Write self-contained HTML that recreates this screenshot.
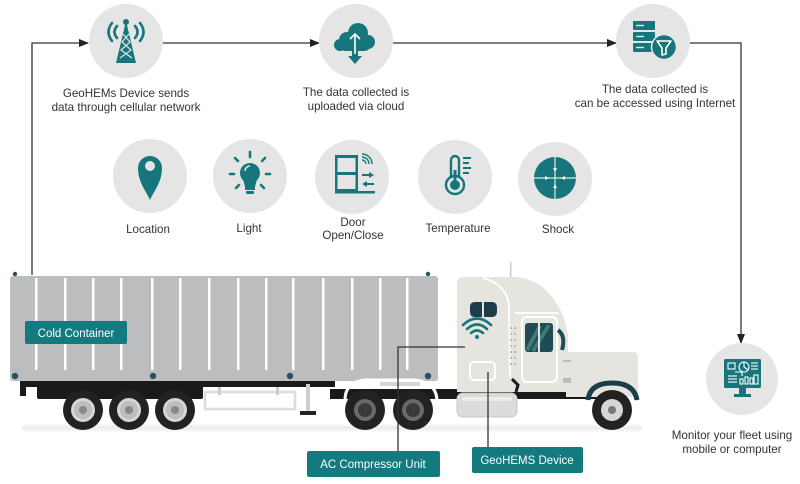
<!DOCTYPE html>
<html>
<head>
<meta charset="utf-8">
<style>
html,body{margin:0;padding:0;background:#fff;}
svg{display:block;}
text{font-family:"Liberation Sans",sans-serif;}
</style>
</head>
<body>
<svg width="800" height="484" viewBox="0 0 800 484" xmlns="http://www.w3.org/2000/svg">
<defs>
<marker id="ah" markerWidth="10" markerHeight="8" refX="9" refY="4" orient="auto" markerUnits="userSpaceOnUse">
<path d="M0,0 L10,4 L0,8 Z" fill="#222"/>
</marker>
<linearGradient id="shadow" x1="0" y1="0" x2="0" y2="1">
<stop offset="0" stop-color="#fafaf9"/>
<stop offset="0.5" stop-color="#ebebe8"/>
<stop offset="1" stop-color="#fcfcfb"/>
</linearGradient>
</defs>
<rect width="800" height="484" fill="#fff"/>

<!-- connectors -->
<g fill="none" stroke="#333" stroke-width="1.3">
<path d="M32,275 L32,43 L88,43" marker-end="url(#ah)"/>
<path d="M163,43 L319,43" marker-end="url(#ah)"/>
<path d="M393,43 L616,43" marker-end="url(#ah)"/>
<path d="M690,43 L741,43 L741,343" marker-end="url(#ah)"/>
</g>

<!-- circles -->
<g fill="#e5e5e5">
<circle cx="126" cy="41" r="37"/>
<circle cx="356" cy="41" r="37"/>
<circle cx="653" cy="41" r="37"/>
<circle cx="742" cy="379" r="36"/>
<circle cx="150" cy="176" r="37"/>
<circle cx="250" cy="176" r="37"/>
<circle cx="352" cy="177" r="37"/>
<circle cx="455" cy="177" r="37"/>
<circle cx="555" cy="179" r="37"/>
</g>

<!-- tower icon -->
<g fill="#17767b">
<polygon points="126,21 116,63 136,63"/>
<circle cx="126" cy="22" r="3"/>
</g>
<g stroke="#e5e5e5" stroke-width="1.2" fill="none">
<path d="M123,34 L130,42 L121,50 L132,58"/>
<path d="M129,34 L122,42 L131,50 L120,58"/>
</g>
<g fill="none" stroke="#17767b" stroke-width="2.6" stroke-linecap="round">
<path d="M117,26 Q112,32 117,38"/>
<path d="M112,23 Q105,32 112,41"/>
<path d="M135,26 Q140,32 135,38"/>
<path d="M140,23 Q147,32 140,41"/>
</g>

<!-- cloud icon -->
<g fill="#17767b">
<circle cx="347" cy="40" r="8"/>
<circle cx="358" cy="33" r="10"/>
<circle cx="368" cy="42" r="7"/>
<circle cx="340" cy="45" r="6"/>
<rect x="340" y="40" width="30" height="11" rx="5"/>
<rect x="352" y="44" width="6" height="14"/>
<polygon points="348,56 362,56 355,64"/>
</g>
<g stroke="#fff" stroke-width="1.6" fill="none">
<path d="M355,54 L355,34 M350,39 L355,34 L360,39"/>
</g>

<!-- server + filter icon -->
<g fill="#17767b">
<rect x="633" y="21" width="22" height="9" rx="1"/>
<rect x="633" y="32" width="22" height="9" rx="1"/>
<rect x="633" y="43" width="22" height="9" rx="1"/>
<circle cx="664" cy="47" r="12.5"/>
</g>
<g stroke="#e5e5e5" stroke-width="1.4">
<line x1="636" y1="25.5" x2="644" y2="25.5"/>
<line x1="636" y1="36.5" x2="644" y2="36.5"/>
<line x1="636" y1="47.5" x2="644" y2="47.5"/>
</g>
<circle cx="664" cy="47" r="12.5" fill="none" stroke="#e5e5e5" stroke-width="1.5"/>
<path d="M657,41 L671,41 L666,48 L666,54 L662,55 L662,48 Z" fill="none" stroke="#fff" stroke-width="1.6" stroke-linejoin="round"/>

<!-- monitor icon -->
<g fill="#17767b">
<rect x="724" y="359" width="37" height="29" rx="1.5"/>
<rect x="739" y="388" width="7" height="7"/>
<rect x="734" y="394" width="17" height="3"/>
</g>
<g stroke="#fff" stroke-width="1.1" fill="none">
<rect x="728" y="363" width="7" height="6"/>
<circle cx="744" cy="367" r="5"/>
<path d="M744,362 L744,367 L748,370"/>
<path d="M735,372 L742,372 L742,376"/>
<line x1="751" y1="363" x2="758" y2="363"/><line x1="751" y1="366" x2="758" y2="366"/><line x1="751" y1="369" x2="758" y2="369"/>
<line x1="728" y1="376" x2="737" y2="376"/><line x1="728" y1="379" x2="737" y2="379"/><line x1="728" y1="382" x2="737" y2="382"/>
<rect x="740" y="379" width="3" height="5"/><rect x="745" y="377" width="3" height="7"/><rect x="750" y="378" width="3" height="6"/>
<rect x="754" y="375" width="4" height="9"/>
</g>

<!-- location pin -->
<path d="M150,200 C146,191 138,182 138,168 A12,12 0 0 1 162,168 C162,182 154,191 150,200 Z" fill="#17767b"/>
<circle cx="150" cy="166" r="5" fill="#e5e5e5"/>

<!-- light bulb -->
<g fill="#17767b">
<circle cx="250" cy="173" r="10"/>
<path d="M243,179 L257,179 L255,187 L245,187 Z"/>
<rect x="245" y="187" width="10" height="3"/>
<rect x="246" y="191" width="8" height="3" rx="1"/>
</g>
<path d="M245,171 A5,5 0 0 1 250,166" stroke="#e5e5e5" stroke-width="1.5" fill="none"/>
<g stroke="#17767b" stroke-width="2.6" stroke-linecap="round">
<line x1="250" y1="152" x2="250" y2="157"/>
<line x1="235" y1="158" x2="238" y2="161"/>
<line x1="265" y1="158" x2="262" y2="161"/>
<line x1="230" y1="174" x2="234" y2="174"/>
<line x1="266" y1="174" x2="270" y2="174"/>
<line x1="236" y1="188" x2="239" y2="185"/>
<line x1="264" y1="188" x2="261" y2="185"/>
</g>

<!-- door -->
<g fill="#17767b">
<rect x="335" y="155" width="23" height="37"/>
<rect x="335" y="191" width="40" height="2.5"/>
</g>
<g fill="#e5e5e5">
<rect x="337.5" y="158" width="18" height="14"/>
<rect x="337.5" y="175" width="18" height="14"/>
</g>
<g fill="none" stroke="#17767b" stroke-width="1.4">
<path d="M362,160 A4,4 0 0 1 366,164"/>
<path d="M362,157 A7,7 0 0 1 369,164"/>
<path d="M362,154 A10,10 0 0 1 372,164"/>
</g>
<g stroke="#17767b" stroke-width="2" fill="#17767b">
<line x1="362" y1="175" x2="370" y2="175"/>
<polygon points="369,172 374,175 369,178" stroke="none"/>
<line x1="366" y1="184" x2="374" y2="184"/>
<polygon points="367,181 362,184 367,187" stroke="none"/>
</g>

<!-- thermometer -->
<g fill="none" stroke="#17767b" stroke-width="2.4">
<path d="M451,178 L451,160 A4,4 0 0 1 459,160 L459,178"/>
<circle cx="455" cy="185" r="9"/>
</g>
<rect x="453.5" y="170" width="3" height="12" fill="#17767b"/>
<circle cx="455" cy="185" r="5" fill="#17767b"/>
<g stroke="#17767b" stroke-width="2">
<line x1="463" y1="158" x2="471" y2="158"/>
<line x1="463" y1="163" x2="469" y2="163"/>
<line x1="463" y1="168" x2="471" y2="168"/>
<line x1="463" y1="173" x2="469" y2="173"/>
</g>

<!-- shock -->
<circle cx="555" cy="178" r="21" fill="#17767b"/>
<g stroke="#e5e5e5" stroke-width="1.2">
<line x1="534" y1="178" x2="576" y2="178"/>
<line x1="555" y1="157" x2="555" y2="199"/>
</g>
<g fill="#fff">
<polygon points="553,168 557,168 555,172"/>
<polygon points="553,188 557,188 555,184"/>
<polygon points="545,176 545,180 549,178"/>
<polygon points="565,176 565,180 561,178"/>
</g>

<!-- captions -->
<g font-size="11.6" fill="#333" text-anchor="middle">
<text x="126" y="97">GeoHEMs Device sends</text>
<text x="126" y="111">data through cellular network</text>
<text x="356" y="96">The data collected is</text>
<text x="356" y="110">uploaded via cloud</text>
<text x="655" y="93">The data collected is</text>
<text x="655" y="107">can be accessed using Internet</text>
<text x="148" y="233">Location</text>
<text x="249" y="232">Light</text>
<text x="353" y="226">Door</text>
<text x="353" y="239">Open/Close</text>
<text x="458" y="232">Temperature</text>
<text x="558" y="233">Shock</text>
<text x="732" y="439">Monitor your fleet using</text>
<text x="732" y="453">mobile or computer</text>
</g>

<!-- ground shadow -->
<rect x="22" y="424" width="620" height="8" fill="url(#shadow)" rx="4"/>

<!-- trailer chassis -->
<rect x="20" y="380" width="315" height="7" fill="#1a1a1a"/>
<rect x="37" y="382" width="166" height="17" fill="#1a1a1a" rx="2"/>
<rect x="20" y="382" width="6" height="14" fill="#1a1a1a"/>
<rect x="205" y="392" width="90" height="17" fill="none" stroke="#dcdcd8" stroke-width="2.5"/>
<rect x="218" y="387" width="3" height="8" fill="#ccc"/>
<rect x="276" y="387" width="3" height="8" fill="#ccc"/>
<rect x="306" y="384" width="4" height="28" fill="#cfcfcf"/>
<rect x="300" y="411" width="16" height="4" fill="#222"/>

<!-- trailer wheels -->
<g>
<circle cx="83" cy="410" r="20" fill="#222"/><circle cx="83" cy="410" r="12" fill="#d6d6d6"/><circle cx="83" cy="410" r="9" fill="#bdbdbd"/><circle cx="83" cy="410" r="4" fill="#888"/>
<circle cx="129" cy="410" r="20" fill="#222"/><circle cx="129" cy="410" r="12" fill="#d6d6d6"/><circle cx="129" cy="410" r="9" fill="#bdbdbd"/><circle cx="129" cy="410" r="4" fill="#888"/>
<circle cx="175" cy="410" r="20" fill="#222"/><circle cx="175" cy="410" r="12" fill="#d6d6d6"/><circle cx="175" cy="410" r="9" fill="#bdbdbd"/><circle cx="175" cy="410" r="4" fill="#888"/>
</g>

<!-- container -->
<rect x="10" y="276" width="428" height="105" rx="3" fill="#bcbdbf"/>
<g fill="#fff">
<rect x="35" y="278" width="2.5" height="92"/>
<rect x="64" y="278" width="2.5" height="92"/>
<rect x="92" y="278" width="2.5" height="92"/>
<rect x="120" y="278" width="2.5" height="92"/>
<rect x="151" y="278" width="2.5" height="92"/>
<rect x="179" y="278" width="2.5" height="92"/>
<rect x="208" y="278" width="2.5" height="92"/>
<rect x="237" y="278" width="2.5" height="92"/>
<rect x="265" y="278" width="2.5" height="92"/>
<rect x="292" y="278" width="2.5" height="92"/>
<rect x="322" y="278" width="2.5" height="92"/>
<rect x="351" y="278" width="2.5" height="92"/>
<rect x="379" y="278" width="2.5" height="92"/>
<rect x="406" y="278" width="2.5" height="92"/>
</g>
<g fill="#2a4f5e">
<circle cx="15" cy="376" r="3.2"/><circle cx="153" cy="376" r="3.2"/><circle cx="290" cy="376" r="3.2"/><circle cx="428" cy="376" r="3.2"/>
<circle cx="15" cy="274" r="2.2"/><circle cx="428" cy="274" r="2.2"/>
</g>

<!-- tractor chassis -->
<rect x="330" y="389" width="270" height="10" fill="#1a1a1a"/>
<path d="M345,400 Q345,382 365,380 L415,380 Q436,382 437,400" fill="none" stroke="#fff" stroke-width="3"/>
<rect x="380" y="382" width="40" height="4" fill="#d5d5d3"/>
<circle cx="365" cy="410" r="20" fill="#222"/><circle cx="365" cy="410" r="11" fill="#6a6a6a"/><circle cx="365" cy="410" r="7" fill="#3a3a3a"/>
<circle cx="413" cy="410" r="20" fill="#222"/><circle cx="413" cy="410" r="11" fill="#6a6a6a"/><circle cx="413" cy="410" r="7" fill="#3a3a3a"/>

<!-- cab -->
<rect x="510" y="262" width="1.5" height="16" fill="#ccc"/>
<path d="M457,283 Q457,277 463,277 L515,277 Q548,279 564,318 L568,335 L568,392 L457,392 Z" fill="#e6e4de"/>
<path d="M566,352 L633,352 Q638,352 638,357 L638,397 L566,397 Z" fill="#e6e4de"/>
<path d="M588,400 Q590,383 612,383 Q634,383 637,400" fill="none" stroke="#1c3d4b" stroke-width="5"/>
<path d="M483,278 Q506,284 509,305 L510,378" fill="none" stroke="#fff" stroke-width="1.8"/>
<line x1="515" y1="313" x2="559" y2="313" stroke="#fff" stroke-width="1.8"/>
<rect x="522" y="317" width="35" height="65" rx="5" fill="none" stroke="#fff" stroke-width="2"/>
<rect x="525" y="323" width="28" height="29" rx="3" fill="#1f4b57"/>
<path d="M527,350 L540,326 M533,351 L549,325" stroke="#3d7a7a" stroke-width="4"/>
<rect x="538" y="323" width="2" height="29" fill="#e6e4de"/>
<path d="M558,330 Q566,336 562,350" stroke="#1f4b57" stroke-width="4" fill="none"/>
<g fill="#aaa">
<circle cx="511" cy="328" r="1"/><circle cx="515" cy="328" r="1"/>
<circle cx="511" cy="334" r="1"/><circle cx="515" cy="334" r="1"/>
<circle cx="511" cy="340" r="1"/><circle cx="515" cy="340" r="1"/>
<circle cx="511" cy="346" r="1"/><circle cx="515" cy="346" r="1"/>
<circle cx="511" cy="352" r="1"/><circle cx="515" cy="352" r="1"/>
<circle cx="511" cy="358" r="1"/><circle cx="515" cy="358" r="1"/>
<circle cx="511" cy="364" r="1"/><circle cx="515" cy="364" r="1"/>
</g>
<rect x="563" y="360" width="8" height="2" fill="#bbb"/>
<rect x="563" y="378" width="8" height="5" fill="#bbb"/>
<path d="M512,379 L518,385 L516,392" stroke="#1a1a1a" stroke-width="3" fill="none"/>
<!-- logo -->
<path d="M470,307 Q470,302 475,302 L482,302 L482,317 L475,317 Q470,317 470,312 Z" fill="#1c3d4b"/>
<path d="M484,302 L492,302 Q497,302 497,308 L497,311 Q497,317 492,317 L484,317 Z" fill="#1c3d4b"/>
<g fill="none" stroke="#17767b" stroke-width="2.6" stroke-linecap="round">
<path d="M463,325 Q477,312 491,325"/>
<path d="M467,329 Q477,320 487,329"/>
<path d="M471,333 Q477,328 483,333"/>
</g>
<circle cx="477" cy="337" r="2" fill="#17767b"/>
<!-- device box -->
<rect x="470" y="362" width="25" height="18" rx="4" fill="none" stroke="#fff" stroke-width="2"/>
<!-- fuel tank -->
<rect x="457" y="393" width="60" height="24" rx="6" fill="#dcdcda" stroke="#c8c8c6" stroke-width="1"/>
<rect x="462" y="397" width="50" height="4" rx="2" fill="#ececea"/>
<!-- front wheel -->
<circle cx="612" cy="410" r="20" fill="#222"/><circle cx="612" cy="410" r="11" fill="#d6d6d6"/><circle cx="612" cy="410" r="4" fill="#777"/>

<!-- callout lines -->
<g fill="none" stroke="#333" stroke-width="1.3">
<path d="M398,451 L398,347 L465,347"/>
<path d="M488,372 L488,447"/>
</g>

<!-- teal labels -->
<rect x="25" y="321" width="102" height="23" rx="2" fill="#137a80"/>
<text x="76" y="337" font-size="11.5" fill="#fff" text-anchor="middle">Cold Container</text>
<rect x="307" y="451" width="133" height="26" rx="2" fill="#137a80"/>
<text x="373" y="468" font-size="11.5" fill="#fff" text-anchor="middle">AC Compressor Unit</text>
<rect x="472" y="447" width="111" height="26" rx="2" fill="#137a80"/>
<text x="527" y="464" font-size="11.5" fill="#fff" text-anchor="middle">GeoHEMS Device</text>
</svg>
</body>
</html>
